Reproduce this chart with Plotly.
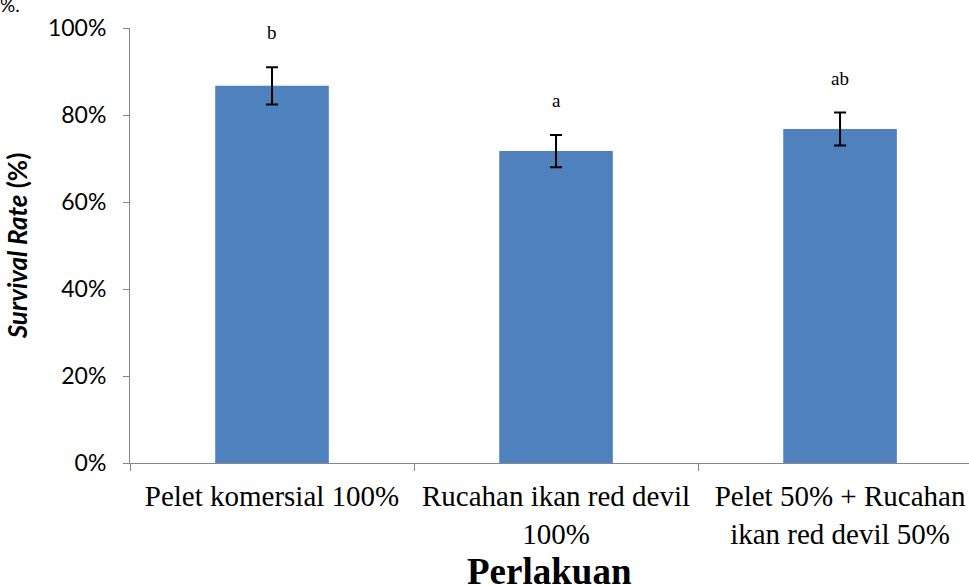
import plotly.graph_objects as go

categories = ["Pelet komersial 100%", "Rucahan ikan red devil<br>100%", "Pelet 50% + Rucahan<br>ikan red devil 50%"]
survival = [0.867, 0.717, 0.768]
errors = [0.043, 0.037, 0.038]
letters = ["b", "a", "ab"]
letter_y = [0.99, 0.834, 0.885]
x_title = "Perlakuan"

fig = go.Figure()
fig.add_trace(go.Bar(
    x=categories, y=survival,
    marker=dict(color="#4F81BD", line=dict(color="#4F81BD", width=0)),
    width=0.4,
    error_y=dict(type="data", array=errors, visible=True, color="black", thickness=2, width=6),
    showlegend=False,
))
for c, l, ly in zip(categories, letters, letter_y):
    fig.add_annotation(x=c, y=ly, text=l, showarrow=False,
                       font=dict(family="Liberation Serif", size=19, color="black"),
                       xref="x", yref="y")

fig.add_annotation(x=0, y=1, xref="paper", yref="paper", xanchor="left", yanchor="bottom",
                   text="%.", showarrow=False, xshift=-132, yshift=10,
                   font=dict(family="Lato", size=19, color="black"))

fig.add_annotation(x=0.5, y=0, xref="paper", yref="paper", xanchor="center", yanchor="middle",
                   text="<b>" + x_title + "</b>", showarrow=False, yshift=-108,
                   font=dict(family="Liberation Serif", size=37, color="black"))

fig.update_layout(
    width=969, height=585,
    margin=dict(l=130, r=0, t=28, b=122),
    plot_bgcolor="white", paper_bgcolor="white",
    xaxis=dict(
        range=[-0.5, 2.454], automargin=False,
        showline=True, linecolor="#868686", linewidth=1,
        ticks="outside", tickson="boundaries", ticklen=7, tickcolor="#868686",
        tickfont=dict(family="Liberation Serif", size=29, color="black"),
        ticklabelstandoff=7,
        showgrid=False,
    ),
    yaxis=dict(
        range=[0, 1.0], tickvals=[0, 0.2, 0.4, 0.6, 0.8, 1.0], tickformat=".0%",
        automargin=False,
        showline=True, linecolor="#868686", linewidth=1,
        ticks="outside", ticklen=6, tickcolor="#868686",
        tickfont=dict(family="Lato", size=23, color="black"),
        ticklabelstandoff=12,
        title=dict(text="<b><i>Survival Rate</i> (%)</b>", font=dict(family="Lato", size=26, color="black"), standoff=12),
        showgrid=False, zeroline=False,
    ),
)

fig.write_html("out.html", config={"displayModeBar": False},
               post_script="document.body.style.margin='0px';document.body.style.padding='0px';")
